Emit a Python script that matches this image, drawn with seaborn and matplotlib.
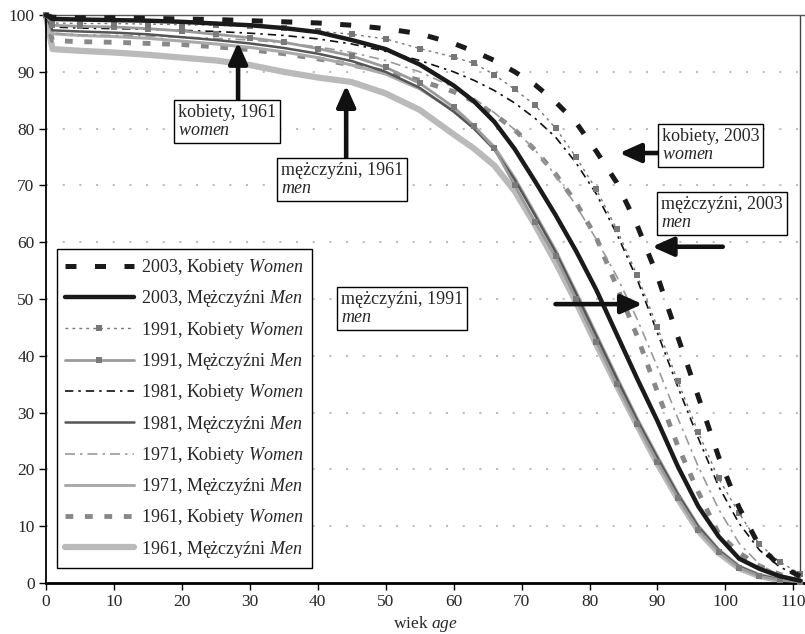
import matplotlib
matplotlib.use('Agg')
import matplotlib.pyplot as plt
import seaborn as sns
import pandas as pd

# ---------------- data ----------------
ages = [0, 1, 5, 10, 15, 20, 25, 30, 35, 40, 45, 50, 55, 60, 63, 66, 69, 72, 75,
        78, 81, 84, 87, 90, 93, 96, 99, 102, 105, 108, 111]

k2003 = [100, 99.6, 99.5, 99.5, 99.4, 99.3, 99.2, 99.0, 98.8, 98.6, 98.2, 97.6, 96.7, 95.0,
         93.6, 92.0, 90.0, 87.7, 84.7, 81.1, 76.0, 70.5, 63.0, 54.0, 43.3, 32.8, 22.2, 13.3, 6.5, 3.0, 1.2]
m2003 = [100, 99.3, 99.2, 99.1, 99.0, 98.8, 98.5, 98.2, 97.7, 97.0, 95.6, 94.0, 91.3, 87.6,
         84.8, 81.2, 76.4, 70.7, 64.8, 58.5, 51.6, 43.8, 36.0, 28.5, 20.5, 13.5, 8.2, 4.3, 2.5, 1.2, 0.4]
k1991 = [100, 98.6, 98.5, 98.5, 98.4, 98.3, 98.2, 98.0, 97.7, 97.2, 96.6, 95.8, 94.1, 92.6,
         91.5, 89.5, 86.9, 84.1, 80.1, 75.0, 69.3, 62.3, 54.2, 45.0, 35.5, 26.5, 18.4, 12.3, 6.8, 3.7, 1.6]
m1991 = [100, 98.2, 98.0, 97.9, 97.6, 97.2, 96.6, 96.0, 95.2, 94.1, 92.8, 90.8, 88.0, 83.8,
         80.5, 76.5, 70.0, 63.5, 57.5, 50.0, 42.5, 35.0, 28.0, 21.3, 15.0, 9.4, 5.5, 2.7, 1.2, 0.5, 0.2]
k1981 = [100, 97.9, 97.7, 97.6, 97.5, 97.3, 97.1, 96.8, 96.4, 95.8, 94.9, 93.6, 92.0, 90.0,
         88.5, 86.7, 84.5, 81.8, 78.5, 74.0, 68.5, 61.5, 53.5, 44.0, 34.5, 25.5, 17.0, 10.5, 5.8, 2.8, 1.2]
m1981 = [100, 97.3, 97.1, 96.9, 96.6, 96.1, 95.6, 95.0, 94.2, 93.2, 91.9, 90.0, 87.2, 83.0,
         80.0, 76.3, 71.0, 64.7, 58.3, 51.0, 43.5, 36.0, 28.7, 22.0, 15.6, 9.9, 5.8, 2.9, 1.4, 0.6, 0.2]
k1971 = [100, 96.8, 96.5, 96.4, 96.3, 96.1, 95.9, 95.6, 95.1, 94.4, 93.4, 92.0, 90.0, 87.3,
         85.3, 82.8, 79.8, 76.2, 71.8, 66.5, 60.5, 54.0, 46.5, 38.0, 29.0, 20.5, 13.0, 7.0, 3.3, 1.3, 0.5]
m1971 = [100, 96.7, 96.4, 96.2, 95.9, 95.4, 94.9, 94.3, 93.5, 92.5, 91.2, 89.6, 87.0, 83.2,
         80.3, 76.8, 71.3, 65.0, 58.6, 51.3, 43.8, 36.3, 29.0, 22.3, 15.8, 10.1, 5.9, 3.0, 1.4, 0.6, 0.2]
k1961 = [100, 95.5, 95.3, 95.2, 95.0, 94.8, 94.4, 93.9, 93.2, 92.3, 91.2, 90.0, 88.5, 86.5,
         84.8, 82.5, 79.8, 76.2, 72.0, 67.0, 60.8, 52.2, 43.5, 33.6, 24.1, 16.0, 8.7, 5.3, 3.0, 1.5, 0.6]
m1961 = [100, 94.0, 93.7, 93.4, 93.0, 92.5, 92.0, 91.2, 90.0, 89.0, 88.2, 86.2, 83.3, 79.0,
         76.5, 73.5, 69.0, 63.0, 56.5, 49.5, 42.0, 34.8, 27.8, 21.0, 14.8, 9.2, 5.3, 2.6, 1.2, 0.5, 0.2]

labels = ["2003, Kobiety $\\mathit{Women}$", "2003, Mężczyźni $\\mathit{Men}$",
          "1991, Kobiety $\\mathit{Women}$", "1991, Mężczyźni $\\mathit{Men}$",
          "1981, Kobiety $\\mathit{Women}$", "1981, Mężczyźni $\\mathit{Men}$",
          "1971, Kobiety $\\mathit{Women}$", "1971, Mężczyźni $\\mathit{Men}$",
          "1961, Kobiety $\\mathit{Women}$", "1961, Mężczyźni $\\mathit{Men}$"]
series = [k2003, m2003, k1991, m1991, k1981, m1981, k1971, m1971, k1961, m1961]

x_ticks = [0, 10, 20, 30, 40, 50, 60, 70, 80, 90, 100, 110]
y_ticks = [0, 10, 20, 30, 40, 50, 60, 70, 80, 90, 100]

# ---------------- styles ----------------
styles = [
    dict(color='#1a1a1a', linewidth=3.6, linestyle=(0, (2.2, 3.7))),
    dict(color='#1a1a1a', linewidth=3.2, linestyle='-'),
    dict(color='#777777', linewidth=1.0, linestyle=(0, (2, 3)), marker='s', markersize=4.8,
         markerfacecolor='#777777', markeredgecolor='#777777', markeredgewidth=0),
    dict(color='#9a9a9a', linewidth=2.0, linestyle='-', marker='s', markersize=4.8,
         markerfacecolor='#7a7a7a', markeredgecolor='#7a7a7a', markeredgewidth=0),
    dict(color='#111111', linewidth=1.2, linestyle=(0, (5, 3, 1.5, 3))),
    dict(color='#555555', linewidth=1.8, linestyle='-'),
    dict(color='#9a9a9a', linewidth=1.2, linestyle=(0, (6, 3, 1.5, 3))),
    dict(color='#aaaaaa', linewidth=2.2, linestyle='-'),
    dict(color='#888888', linewidth=3.5, linestyle=(0, (1.6, 2.4))),
    dict(color='#bababa', linewidth=4.5, linestyle='-'),
]

sns.set_theme(style='white')
plt.rcParams['font.family'] = ['Liberation Serif', 'DejaVu Serif']
plt.rcParams['mathtext.fontset'] = 'custom'
plt.rcParams['mathtext.rm'] = 'Liberation Serif'
plt.rcParams['mathtext.it'] = 'Liberation Serif:italic'
plt.rcParams['mathtext.bf'] = 'Liberation Serif:bold'

fig = plt.figure(figsize=(8.05, 6.34), dpi=100)
ax = fig.add_axes([45.7 / 805, 51 / 634, (805 - 45.7) / 805, 568 / 634])

# grid
for yv in y_ticks[1:-1]:
    ax.axhline(yv, color='#bdbdbd', lw=1.5, linestyle=(0, (1, 7)), zorder=0)

handles = [None] * len(series)
order = list(range(len(series)))[::-1]
for i in order:
    df = pd.DataFrame({'age': ages, 'val': series[i]})
    sns.lineplot(data=df, x='age', y='val', ax=ax, estimator=None, errorbar=None,
                 sort=False, clip_on=False, zorder=2 + (len(series) - i) * 0.1,
                 **styles[i])
    handles[i] = ax.lines[-1]

ax.set_xlim(0, 111.7)
ax.set_ylim(0, 100)
ax.set_xticks(x_ticks)
ax.set_yticks(y_ticks)
ax.tick_params(axis='both', labelsize=12.5, length=5, width=1, color='black',
               direction='out', bottom=True, left=True, pad=3)
ax.spines['left'].set_color('black'); ax.spines['left'].set_linewidth(1.3)
ax.spines['bottom'].set_color('black'); ax.spines['bottom'].set_linewidth(2.0)
ax.spines['top'].set_color('#555555'); ax.spines['top'].set_linewidth(1.0)
ax.spines['right'].set_visible(False)
ax.axvline(111, ymin=0.01, ymax=1, color='#444444', lw=1.0, zorder=1)
ax.set_xlabel('wiek $\\mathit{age}$', fontsize=12.5, labelpad=3)
ax.set_ylabel('')

leg = ax.legend(handles, labels, loc='upper left', bbox_to_anchor=(57 / 805, 1 - 249 / 634),
                bbox_transform=fig.transFigure, frameon=True, fancybox=False,
                edgecolor='black', framealpha=1, fontsize=13, handlelength=3.8,
                handletextpad=0.4, labelspacing=0.57, borderpad=0.45, borderaxespad=0,
                numpoints=1)
leg.get_frame().set_linewidth(1.0)
leg.set_zorder(10)

# annotations
box = dict(boxstyle='square,pad=0.22', fc='white', ec='black', lw=1.0)
notes = [
    ("kobiety, 1961\n$\\mathit{women}$", (19.5, 84.3)),
    ("mężczyźni, 1961\n$\\mathit{men}$", (34.6, 74.1)),
    ("kobiety, 2003\n$\\mathit{women}$", (90.6, 80.1)),
    ("mężczyźni, 2003\n$\\mathit{men}$", (90.5, 68.1)),
    ("mężczyźni, 1991\n$\\mathit{men}$", (43.4, 51.4)),
]
for txt, (xx, yy) in notes:
    ax.text(xx, yy, txt, ha='left', va='top', fontsize=13, bbox=box, zorder=12,
            linespacing=1.05)

arrows = [((28.3, 84.9), (28.3, 95.2)),
          ((44.2, 74.6), (44.2, 87.6)),
          ((90.2, 75.7), (84.4, 75.7)),
          ((99.6, 59.2), (89.2, 59.2)),
          ((75.0, 49.1), (87.8, 49.1))]
for tail, tip in arrows:
    ax.annotate('', xy=tip, xytext=tail, zorder=11,
                arrowprops=dict(arrowstyle='-|>,head_length=0.85,head_width=0.38',
                                lw=3.3, color='#111111', shrinkA=0, shrinkB=0,
                                mutation_scale=15))

fig.savefig('out.png', dpi=100)
